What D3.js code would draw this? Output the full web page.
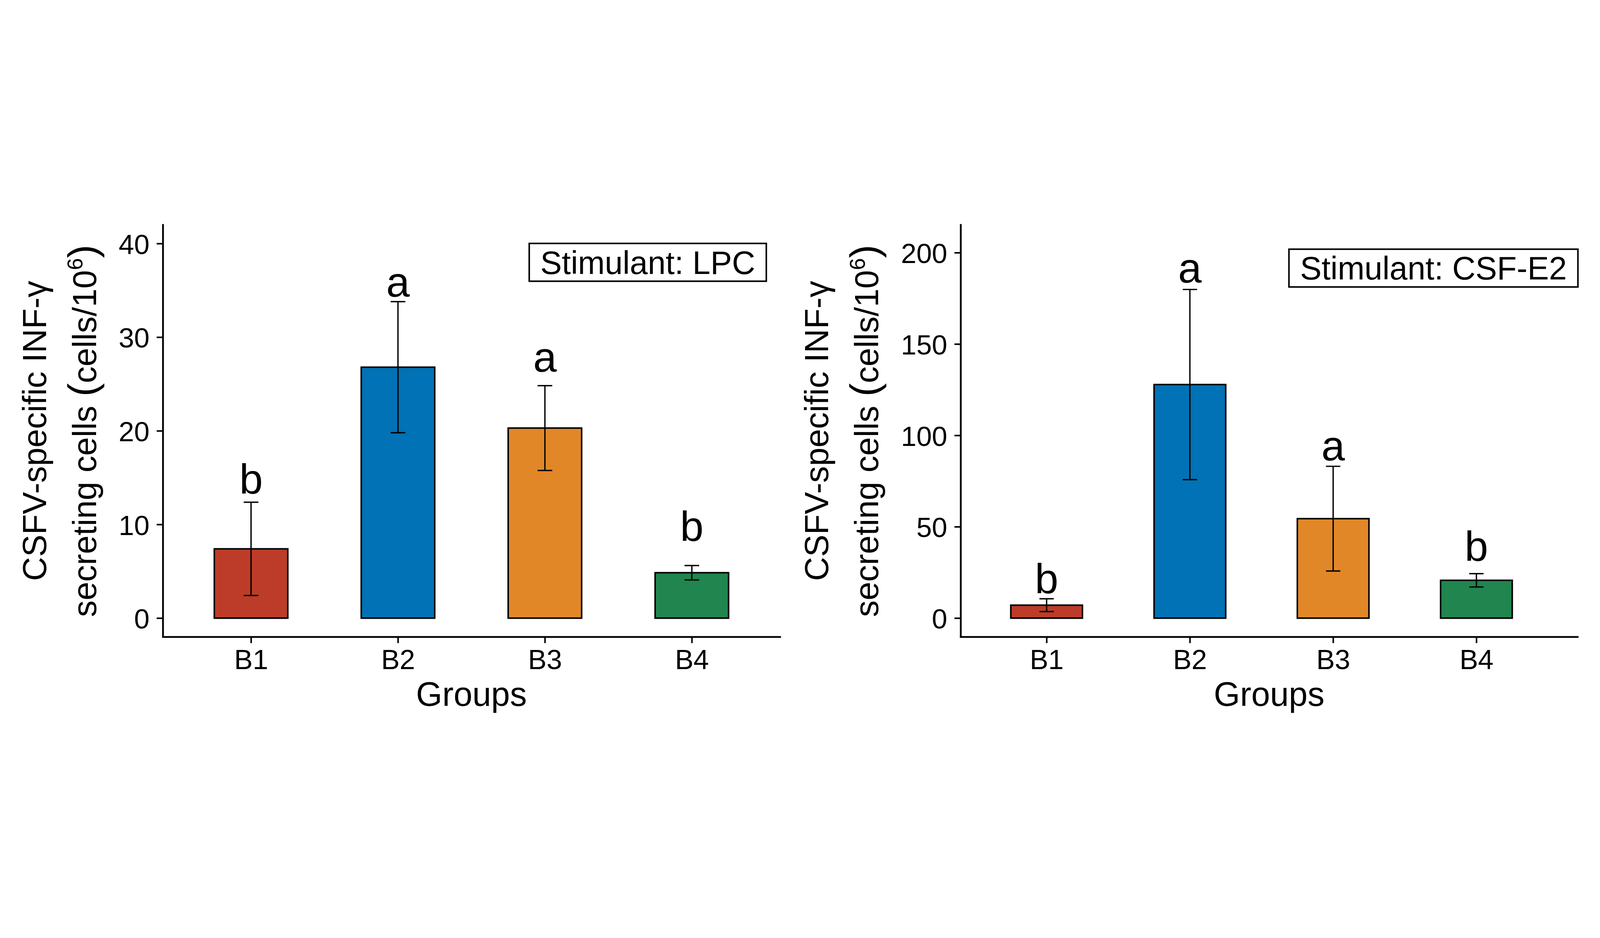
<!DOCTYPE html>
<html>
<head>
<meta charset="utf-8">
<script src="https://cdn.jsdelivr.net/npm/d3@7"></script>
<style>
  html, body { margin: 0; padding: 0; background: #fff; width: 100%; height: 100%; overflow: hidden; }
  svg { display: block; width: 100vw; height: 100vh; font-family: "Liberation Sans", Arial, sans-serif; }
  .axis path.domain { stroke: #000; stroke-width: 8; stroke-linecap: square; }
  .axis .tick line { stroke: #000; stroke-width: 7; }
  .axis .tick text { font-size: 125px; fill: #000; font-family: "Liberation Sans", Arial, sans-serif; }
</style>
</head>
<body>
<svg id="chart" viewBox="0 0 7200 2400" preserveAspectRatio="xMidYMid meet"></svg>
<script>
const groups = ["B1", "B2", "B3", "B4"];
const colors = ["#BC3C29", "#0072B5", "#E18727", "#20854E"];
const letters = ["b", "a", "a", "b"];

// Stimulant: LPC
const lpcMean = [7.4, 26.8, 20.3, 4.85];
const lpcSd = [4.98, 7.0, 4.53, 0.77];
const lpcLetterY = [13.3, 34.35, 26.3, 8.24];
const lpcTicks = [0, 10, 20, 30, 40];

// Stimulant: CSF-E2
const e2Mean = [7.1, 127.85, 54.45, 20.7];
const e2Sd = [3.5, 52.05, 28.65, 3.65];
const e2LetterY = [13.6, 183.7, 86.3, 31.4];
const e2Ticks = [0, 50, 100, 150, 200];

const panels = [
  {
    title: "Stimulant: LPC", mean: lpcMean, sd: lpcSd, letterY: lpcLetterY, ticks: lpcTicks,
    left: 733, right: 3510, xDomain: [0.4, 4.6], yDomain: [-2, 42], boxAt: [3.7, 38.0],
  },
  {
    title: "Stimulant: CSF-E2", mean: e2Mean, sd: e2Sd, letterY: e2LetterY, ticks: e2Ticks,
    left: 4323, right: 7099, xDomain: [0.4, 4.706], yDomain: [-10.25, 215.25], boxAt: [3.7, 191.6],
  },
];

const plotTop = 102;
const plotBottom = 1955;
const svg = d3.select("#chart");

function drawPanel(p) {
  const x = d3.scaleLinear().domain(p.xDomain).range([p.left, p.right]);
  const y = d3.scaleLinear().domain(p.yDomain).range([plotBottom, plotTop]);
  const g = svg.append("g");

  const rows = groups.map((name, i) => ({
    name, i: i + 1, mean: p.mean[i], sd: p.sd[i], color: colors[i], letter: letters[i], ly: p.letterY[i],
  }));

  // bars
  g.selectAll("rect.bar")
    .data(rows)
    .join("rect")
    .attr("class", "bar")
    .attr("x", (d) => x(d.i - 0.25))
    .attr("width", (d) => x(d.i + 0.25) - x(d.i - 0.25))
    .attr("y", (d) => y(d.mean))
    .attr("height", (d) => y(0) - y(d.mean))
    .attr("fill", (d) => d.color)
    .attr("stroke", "#000")
    .attr("stroke-width", 7);

  // error bars
  const eb = g.selectAll("g.err").data(rows).join("g").attr("class", "err")
    .attr("stroke", "#000").attr("stroke-width", 6);
  eb.append("line")
    .attr("x1", (d) => x(d.i)).attr("x2", (d) => x(d.i))
    .attr("y1", (d) => y(d.mean - d.sd)).attr("y2", (d) => y(d.mean + d.sd));
  eb.append("line")
    .attr("x1", (d) => x(d.i - 0.05)).attr("x2", (d) => x(d.i + 0.05))
    .attr("y1", (d) => y(d.mean + d.sd)).attr("y2", (d) => y(d.mean + d.sd));
  eb.append("line")
    .attr("x1", (d) => x(d.i - 0.05)).attr("x2", (d) => x(d.i + 0.05))
    .attr("y1", (d) => y(d.mean - d.sd)).attr("y2", (d) => y(d.mean - d.sd));

  // significance letters
  g.selectAll("text.letter")
    .data(rows)
    .join("text")
    .attr("class", "letter")
    .attr("x", (d) => x(d.i))
    .attr("y", (d) => y(d.ly))
    .attr("text-anchor", "middle")
    .attr("font-size", 190)
    .text((d) => d.letter);

  // axes
  const yAxis = g.append("g")
    .attr("class", "axis")
    .attr("transform", `translate(${p.left},0)`)
    .call(d3.axisLeft(y).tickValues(p.ticks).tickSize(28).tickSizeOuter(0).tickPadding(32));
  yAxis.selectAll(".tick text").attr("dy", "0.37em");

  g.append("g")
    .attr("class", "axis")
    .attr("transform", `translate(0,${plotBottom})`)
    .call(d3.axisBottom(x).tickValues([1, 2, 3, 4]).tickFormat((v) => groups[v - 1])
      .tickSize(28).tickSizeOuter(0).tickPadding(28));

  // x title
  g.append("text")
    .attr("x", (p.left + p.right) / 2)
    .attr("y", 2265)
    .attr("text-anchor", "middle")
    .attr("font-size", 152)
    .text("Groups");

  // y title, two lines
  const labelLeft = p.left + yAxis.node().getBBox().x;
  const line2X = labelLeft - 102;
  const line1X = line2X - 225;
  const cy = (plotTop + plotBottom) / 2;

  g.append("text")
    .attr("transform", `translate(${line1X},${cy}) rotate(-90)`)
    .attr("text-anchor", "middle")
    .attr("font-size", 150)
    .text("CSFV-specific INF-γ");

  const t2 = g.append("text")
    .attr("transform", `translate(${line2X},${cy}) rotate(-90)`)
    .attr("text-anchor", "middle")
    .attr("font-size", 150);
  t2.append("tspan").text("secreting cells ");
  t2.append("tspan").attr("font-size", 180).text("(");
  t2.append("tspan").text("cells/10");
  t2.append("tspan").attr("font-size", 97).attr("dy", -61).text("6");
  t2.append("tspan").attr("font-size", 180).attr("dy", 61).text(")");

  // stimulant label box
  const bx = x(p.boxAt[0]);
  const by = y(p.boxAt[1]) + 52;
  const lab = g.append("text")
    .attr("x", bx)
    .attr("y", by)
    .attr("text-anchor", "middle")
    .attr("font-size", 145)
    .text(p.title);
  const bb = lab.node().getBBox();
  g.insert("rect", "text")
    .attr("x", bb.x - 50)
    .attr("width", bb.width + 100)
    .attr("y", by - 137)
    .attr("height", 170)
    .attr("fill", "#fff")
    .attr("stroke", "#000")
    .attr("stroke-width", 7);
}

panels.forEach(drawPanel);
</script>
</body>
</html>
